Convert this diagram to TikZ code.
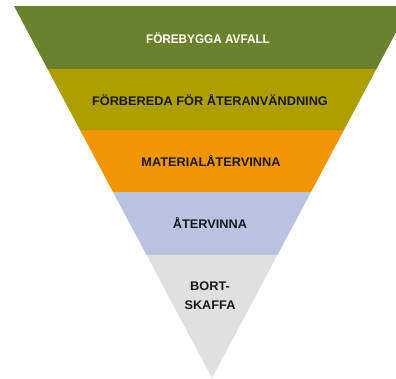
\documentclass[tikz,border=0pt]{standalone}
\usepackage{fontspec}
\newfontfamily\labfontA[FakeStretch=0.94]{Liberation Sans}
\newfontfamily\labfontB[FakeStretch=1.02]{Liberation Sans}
\definecolor{cgreen}{HTML}{6B822D}
\definecolor{colive}{HTML}{AE9F00}
\definecolor{corange}{HTML}{F29500}
\definecolor{cblue}{HTML}{B8C3E0}
\definecolor{cgray}{HTML}{E0E0E0}
\tikzset{
  lab/.style={anchor=base, inner sep=0pt, font=\labfontB\bfseries\fontsize{12.5}{19.5}\selectfont, align=center, text=black!90},
  labw/.style={lab, font=\labfontA\bfseries\fontsize{12.5}{19.5}\selectfont, text=white},
}
\begin{document}
\begin{tikzpicture}[x=1pt,y=1pt]
\useasboundingbox (0,0) rectangle (396,378);
\begin{scope}
  \clip (0,0) rectangle (396,378);
  \clip (14,372) -- (410,372) -- (212,0) -- cycle;
  \fill[cgreen]  (0,309) rectangle (420,372);
  \fill[colive]  (0,247.5) rectangle (420,309);
  \fill[corange] (0,186.5) rectangle (420,247.5);
  \fill[cblue]   (0,123) rectangle (420,186.5);
  \fill[cgray]   (0,0) rectangle (420,123);
\end{scope}
\node[labw] (l1) at (208,334) {FÖREBYGGA AVFALL};
\node[lab] (l2) at (210,272.5) {FÖRBEREDA FÖR ÅTERANVÄNDNING};
\node[lab] (l3) at (211,211.5) {MATERIALÅTERVINNA};
\node[lab] (l4) at (210,149.7) {ÅTERVINNA};
\node[lab] (l5) at (210,88) {BORT-};
\node[lab] (l6) at (210,68.7) {SKAFFA};
\end{tikzpicture}
\end{document}
